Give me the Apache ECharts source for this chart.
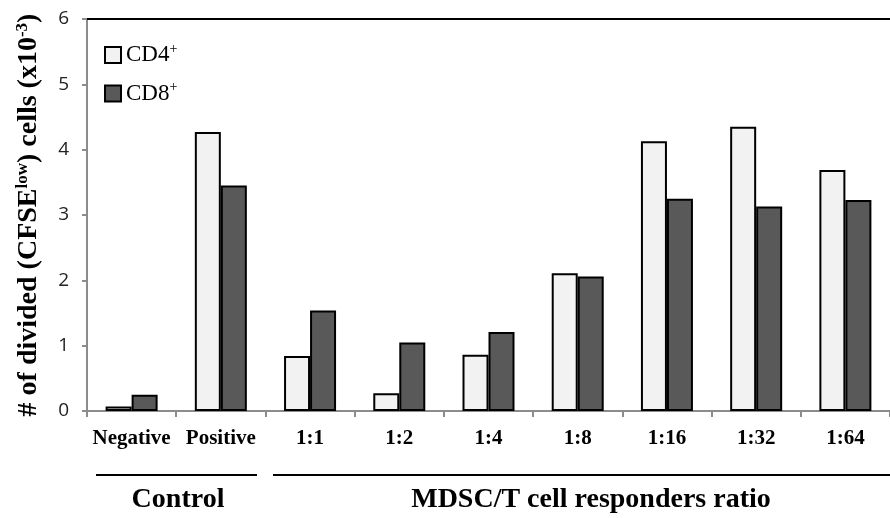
<!DOCTYPE html>
<html>
<head>
<meta charset="utf-8">
<script src="https://cdn.jsdelivr.net/npm/echarts@6/dist/echarts.min.js"></script>
<style>
  html, body { margin: 0; padding: 0; background: #fff; }
  #chart { width: 890px; height: 518px; }
</style>
</head>
<body>
<div id="chart"></div>
<script>
const categories = ['Negative', 'Positive', '1:1', '1:2', '1:4', '1:8', '1:16', '1:32', '1:64']
const cd4Values = [0.07, 4.27, 0.84, 0.27, 0.86, 2.11, 4.13, 4.35, 3.69]
const cd8Values = [0.25, 3.45, 1.54, 1.05, 1.21, 2.06, 3.25, 3.13, 3.23]
const yTicks = [0, 1, 2, 3, 4, 5, 6]

const serif = '"Liberation Serif", "Times New Roman", serif'
const sans = '"Open Sans", "Noto Sans", sans-serif'
const axisGray = '#8c8c8c'

const chart = echarts.init(document.getElementById('chart'), null, { renderer: 'canvas' })

chart.setOption({
  animation: false,
  backgroundColor: '#fff',
  legend: {
    orient: 'vertical',
    left: 99,
    top: 37,
    itemWidth: 16,
    itemHeight: 16,
    itemGap: 14,
    icon: 'rect',
    textStyle: {
      fontFamily: serif,
      fontSize: 23,
      color: '#000',
      rich: {
        base: { fontFamily: serif, fontSize: 23, color: '#000' },
        sup: { fontFamily: serif, fontSize: 14, color: '#000', verticalAlign: 'top', padding: [0, 0, 12, 0] }
      }
    },
    formatter: name => `{base|${name}}{sup|+}`,
    data: ['CD4', 'CD8']
  },
  grid: {
    left: 87,
    right: -7,
    top: 19,
    bottom: 107,
    containLabel: false
  },
  xAxis: [
    {
      type: 'category',
      data: categories,
      axisLine: { lineStyle: { color: axisGray, width: 2 } },
      axisTick: { show: true, length: 6, lineStyle: { color: axisGray, width: 2 } },
      axisLabel: {
        interval: 0,
        margin: 17,
        fontFamily: serif,
        fontWeight: 'bold',
        fontSize: 21,
        color: '#000'
      }
    },
    {
      type: 'category',
      position: 'top',
      data: categories,
      axisLine: { lineStyle: { color: '#000', width: 2 } },
      axisTick: { show: false },
      axisLabel: { show: false }
    }
  ],
  yAxis: {
    type: 'value',
    min: yTicks[0],
    max: yTicks[yTicks.length - 1],
    interval: 1,
    name: '# of divided (CFSE{sup|low}) cells (x10{sup|-3})',
    nameLocation: 'middle',
    nameGap: 44,
    nameTextStyle: {
      fontFamily: serif,
      fontWeight: 'bold',
      fontSize: 28,
      color: '#000',
      rich: {
        sup: { fontFamily: serif, fontWeight: 'bold', fontSize: 17, color: '#000', verticalAlign: 'top', padding: [0, 0, 12, 0] }
      }
    },
    axisLine: { show: true, lineStyle: { color: axisGray, width: 2 } },
    axisTick: { show: true, length: 5, lineStyle: { color: axisGray, width: 2 } },
    axisLabel: {
      margin: 18,
      fontFamily: sans,
      fontSize: 19,
      color: '#222'
    },
    splitLine: { show: false }
  },
  series: [
    {
      name: 'CD4',
      type: 'bar',
      data: cd4Values,
      barWidth: 26,
      barGap: '0%',
      itemStyle: { color: '#f2f2f2', borderColor: '#000', borderWidth: 2 }
    },
    {
      name: 'CD8',
      type: 'bar',
      data: cd8Values,
      barWidth: 26,
      barGap: '0%',
      itemStyle: { color: '#595959', borderColor: '#000', borderWidth: 2 }
    }
  ],
  graphic: [
    { type: 'line', shape: { x1: 96, y1: 475, x2: 257, y2: 475 }, style: { stroke: '#000', lineWidth: 2 } },
    { type: 'line', shape: { x1: 273, y1: 475, x2: 890, y2: 475 }, style: { stroke: '#000', lineWidth: 2 } },
    {
      type: 'text', x: 178, y: 500,
      style: { text: 'Control', fontFamily: serif, fontWeight: 'bold', fontSize: 28, fill: '#000', align: 'center', verticalAlign: 'middle' }
    },
    {
      type: 'text', x: 591, y: 500,
      style: { text: 'MDSC/T cell responders ratio', fontFamily: serif, fontWeight: 'bold', fontSize: 28, fill: '#000', align: 'center', verticalAlign: 'middle' }
    }
  ]
})
</script>
</body>
</html>
